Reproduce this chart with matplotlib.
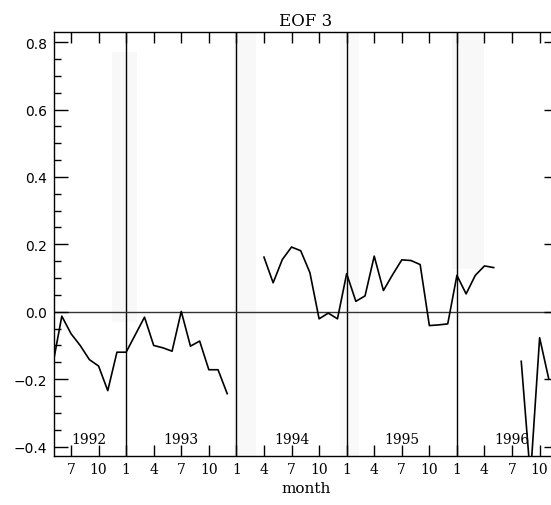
import numpy as np
import matplotlib
matplotlib.use('Agg')
import matplotlib.pyplot as plt
from matplotlib.ticker import MultipleLocator, FixedLocator

nan = np.nan

# monthly EOF 3 amplitude, May 1992 .. Nov 1996 (month 1 = Jan 1992)
first_month = 5
values_1992 = [-0.160, -0.013, -0.065, -0.100, -0.142, -0.161, -0.234, -0.120]
values_1993 = [-0.120, -0.068, -0.016, -0.100, -0.107, -0.117, 0.001, -0.102,
               -0.087, -0.172, -0.172, -0.243]
values_1994 = [nan, nan, nan, 0.162, 0.086, 0.155, 0.192, 0.181,
               0.116, -0.021, -0.004, -0.021]
values_1995 = [0.113, 0.031, 0.047, 0.165, 0.063, 0.110, 0.154, 0.152,
               0.140, -0.041, -0.039, -0.036]
values_1996 = [0.108, 0.053, 0.108, 0.136, 0.131, nan, nan, -0.147,
               -0.490, -0.077, -0.200]

years = [1992, 1993, 1994, 1995, 1996]
tick_months = [7, 10, 1, 4, 7, 10, 1, 4, 7, 10, 1, 4, 7, 10, 1, 4, 7, 10]

values = values_1992 + values_1993 + values_1994 + values_1995 + values_1996
t = np.arange(first_month, first_month + len(values))

serif = 'DejaVu Serif'

fig = plt.figure(figsize=(5.51, 5.06), dpi=100)
ax = fig.add_axes([0.098, 0.0968, 1.0127 - 0.098, 0.9348 - 0.0968])
ax.set_xlim(5.15, 60.0)
ax.set_ylim(-0.428, 0.83)

# faint scan shading around some year boundaries
ax.axvspan(11.5, 14.2, ymin=0.315, ymax=0.953, color='#f8f8f8', lw=0, zorder=0)
ax.axvspan(24.7, 27.1, color='#f8f8f8', lw=0, zorder=0)
ax.axvspan(36.3, 38.3, color='#f9f9f9', lw=0, zorder=0)
ax.axvspan(48.5, 51.9, ymin=0.44, color='#f8f8f8', lw=0, zorder=0)

# year boundaries and zero line
for y in years[1:]:
    ax.axvline((y - 1992) * 12 + 1, color='black', lw=1.0, zorder=1)
ax.axhline(0.0, color='#333333', lw=1.0, zorder=1)

ax.plot(t, values, color='black', lw=1.2, zorder=2)

# year labels
for y in years:
    xm = (y - 1992) * 12 + 7
    if y == 1992:
        xm = 9
    ax.text(xm, -0.377, str(y), ha='center', va='center', fontsize=10,
            family=serif)

ax.xaxis.set_major_locator(FixedLocator(list(range(7, 59, 3))))
ax.set_xticklabels([str(m) for m in tick_months], family=serif, fontsize=10)
ax.yaxis.set_minor_locator(MultipleLocator(0.05))
ax.set_yticks([-0.4, -0.2, 0.0, 0.2, 0.4, 0.6, 0.8])
ax.set_yticklabels(['\u22120.4', '\u22120.2', '0.0', '0.2', '0.4', '0.6', '0.8'],
                   fontsize=10, family='DejaVu Sans')

ax.tick_params(axis='x', which='major', direction='in', length=8, width=1,
               top=True, bottom=True, pad=4)
ax.tick_params(axis='y', which='major', direction='in', length=10, width=1,
               left=True, right=True, pad=5)
ax.tick_params(axis='y', which='minor', direction='in', length=5, width=1,
               left=True, right=True)
for s in ax.spines.values():
    s.set_linewidth(1.0)

ax.set_xlabel('month', family=serif, fontsize=11, labelpad=4)
ax.set_title('EOF 3', family=serif, fontsize=12, pad=5)

fig.savefig('out.png', dpi=100)
